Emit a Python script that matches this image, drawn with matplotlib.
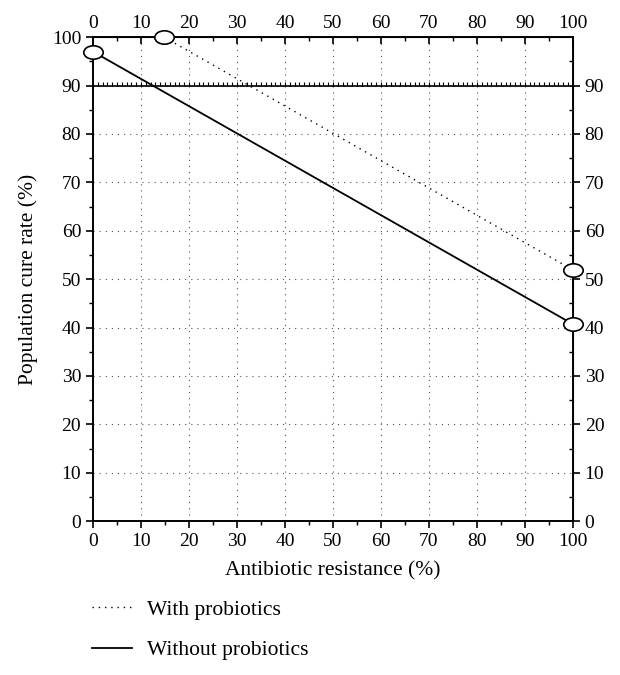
import numpy as np
import matplotlib
matplotlib.use('Agg')
import matplotlib.pyplot as plt
from matplotlib.path import Path
from matplotlib.transforms import Affine2D

# data
with_x = [14.8, 100]
with_y = [100, 51.9]
without_x = [0, 100]
without_y = [97, 40.7]
target_cure = 90
x_ticks = list(range(0, 101, 10))
y_ticks = list(range(0, 101, 10))
right_ticks = list(range(0, 91, 10))

plt.rcParams.update({
    'font.family': ['Liberation Serif', 'DejaVu Serif'],
    'font.size': 14,
})

ellipse = Path.unit_circle().transformed(Affine2D().scale(1.45, 1.0))

fig = plt.figure(figsize=(6.2, 6.75), dpi=100)
ax = fig.add_axes([0.15, 0.228, 0.774, 0.717])
ax.set_xlim(0, 100)
ax.set_ylim(0, 100)

# grid
for v in x_ticks[1:-1]:
    ax.axvline(v, color='#555555', lw=0.8, ls=(0, (1, 4.5)), zorder=0)
for v in y_ticks[1:-1]:
    ax.axhline(v, color='#555555', lw=0.8, ls=(0, (1, 4.5)), zorder=0)

# 90% reference line with small ruler marks
ax.axhline(target_cure, color='black', lw=1.2, zorder=2)
ax.plot(np.arange(0, 101, 1), np.full(101, target_cure + 0.35), ls='none',
        marker='|', ms=3, mew=0.8, color='black', clip_on=False, zorder=2)

l1, = ax.plot(with_x, with_y, color='black', lw=1.0, ls=(0, (1, 3.5)), zorder=3)
l2, = ax.plot(without_x, without_y, color='black', lw=1.3, zorder=3)
for xs, ys in [(with_x, with_y), (without_x, without_y)]:
    ax.plot(xs, ys, ls='none', marker=ellipse, ms=14, mfc='white', mec='black',
            mew=1.2, clip_on=False, zorder=5)

ax.set_xticks(x_ticks)
ax.set_yticks(y_ticks)
ax.set_xticks(range(5, 100, 10), minor=True)
ax.set_yticks(range(5, 100, 10), minor=True)
ax.tick_params(which='major', direction='out', length=5, width=1.2, labelsize=14)
ax.tick_params(which='minor', direction='out', length=3, width=1.0)
for s in ax.spines.values():
    s.set_linewidth(1.4)

ax.set_xlabel('Antibiotic resistance (%)', fontsize=15.5, labelpad=8)
ax.set_ylabel('Population cure rate (%)', fontsize=15.5, labelpad=10)

top = ax.secondary_xaxis('top')
top.set_xticks(x_ticks)
top.set_xticks(range(5, 100, 10), minor=True)
top.tick_params(which='major', direction='in', length=5, width=1.2, labelsize=14)
top.tick_params(which='minor', direction='in', length=3, width=1.0)

right = ax.secondary_yaxis('right')
right.set_yticks(right_ticks)
right.set_yticks(range(5, 100, 10), minor=True)
right.tick_params(which='major', direction='out', length=5, width=1.2, labelsize=14)
right.tick_params(which='minor', direction='in', length=3, width=1.0)

fig.legend([l1, l2], ['With probiotics', 'Without probiotics'],
           loc='upper left', bbox_to_anchor=(0.117, 0.14), frameon=False,
           fontsize=15.5, handlelength=1.85, handletextpad=0.7, labelspacing=0.95)

fig.savefig('out.png', dpi=100)
